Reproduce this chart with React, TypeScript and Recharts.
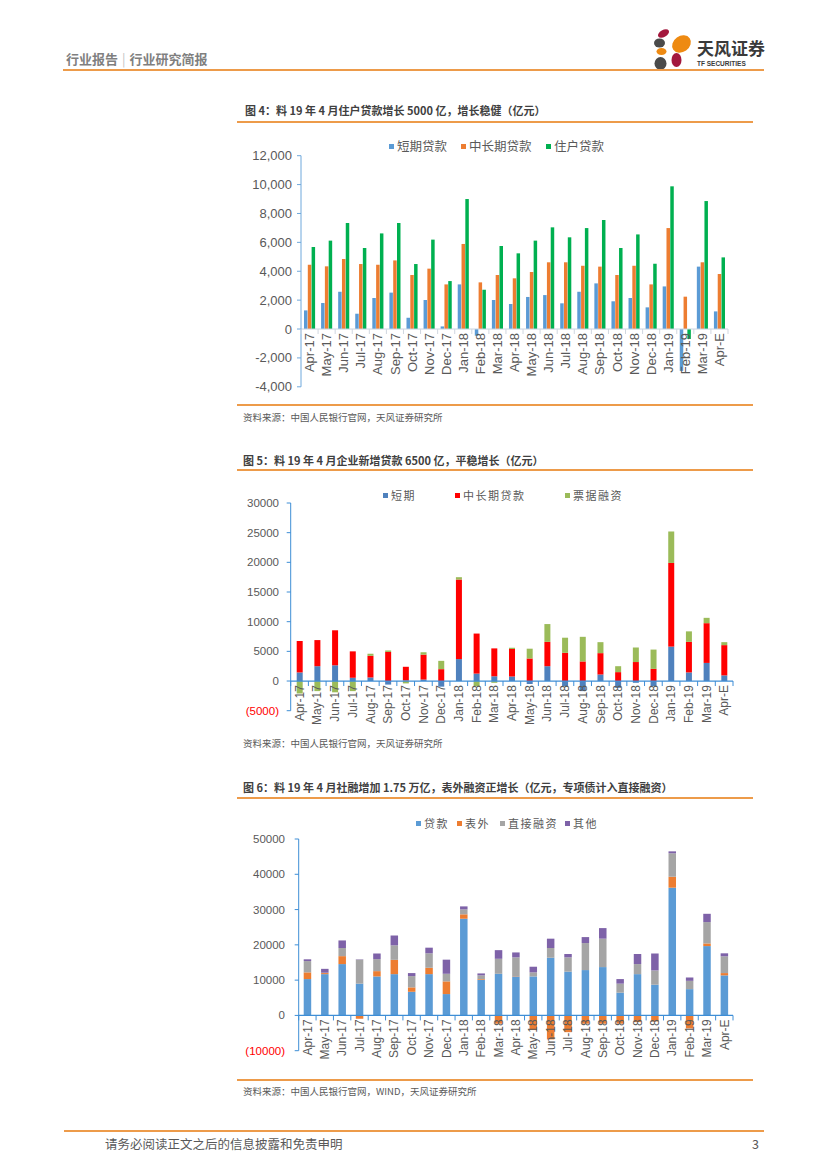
import React from 'react'
import { Bar, BarChart, ReferenceLine, XAxis, YAxis } from 'recharts'

// x categories shared by all three charts
const months = [
  'Apr-17', 'May-17', 'Jun-17', 'Jul-17', 'Aug-17', 'Sep-17', 'Oct-17', 'Nov-17', 'Dec-17',
  'Jan-18', 'Feb-18', 'Mar-18', 'Apr-18', 'May-18', 'Jun-18', 'Jul-18', 'Aug-18', 'Sep-18',
  'Oct-18', 'Nov-18', 'Dec-18', 'Jan-19', 'Feb-19', 'Mar-19', 'Apr-E',
]

// 图4: 短期贷款 / 中长期贷款 / 住户贷款
const shortLoans = [1290, 1800, 2580, 1060, 2150, 2520, 780, 2010, 180, 3090, -460, 2010, 1730, 2220, 2350, 1780, 2580, 3160, 1920, 2150, 1500, 2950, -2900, 4320, 1220]
const midLongLoans = [4450, 4340, 4850, 4500, 4450, 4750, 3740, 4180, 3090, 5890, 3230, 3740, 3510, 3950, 4620, 4620, 4380, 4320, 3740, 4380, 3090, 6990, 2240, 4620, 3810]
const householdLoans = [5680, 6120, 7340, 5610, 6620, 7340, 4500, 6190, 3320, 9000, 2720, 5750, 5240, 6120, 7040, 6350, 6990, 7550, 5610, 6550, 4520, 9880, -690, 8860, 4960]

// 图5: 企业 短期 / 中长期贷款 / 票据融资 (stacked)
const corpShort = [1450, 2500, 2650, 550, 600, -600, 100, 250, -950, 3700, 1250, 800, 750, -500, 2500, -900, -1700, 1100, -1150, -300, -850, 5800, 1450, 3050, 950]
const corpMidLong = [5300, 4400, 5900, 4450, 3650, 4900, 2300, 4200, 2000, 13400, 6750, 4700, 4650, 3800, 4100, 4750, 3300, 3600, 1500, 3200, 2050, 14100, 5150, 6700, 5100]
const billFinancing = [-2100, -1700, -1900, -1700, 350, 250, -400, 400, 1400, 400, -850, -300, 200, 1650, 3000, 2550, 4150, 1850, 1000, 2450, 3250, 5300, 1770, 900, 500]

// 图6: 社融 贷款 / 表外 / 直接融资 / 其他 (stacked)
const tsfLoans = [10300, 11700, 14550, 9000, 11050, 11700, 6700, 11700, 6050, 27400, 10100, 11800, 11050, 11050, 16350, 12400, 12850, 13700, 6450, 11700, 8700, 36200, 7450, 19650, 11350]
const tsfOffBalance = [1900, 300, 2250, -950, 1500, 4050, 1250, 1800, 3600, 1250, 200, -2350, 100, -4150, -6800, -4750, -2350, -2350, -2350, -1900, -1700, 3100, -3700, 750, 650]
const tsfDirect = [3200, 100, 2300, 6800, 3400, 4100, 3200, 4100, 2150, 1400, 1050, 4250, 5300, 1150, 2750, 4050, 7650, 8050, 2550, 2850, 4050, 6650, 2350, 6050, 4750]
const tsfOther = [500, 1100, 2150, 100, 1600, 2800, 850, 1600, 4000, 850, 550, 2450, 1400, 1600, 2650, 950, 1700, 3000, 1300, 2850, 4800, 550, 950, 2350, 850]

const ticks1 = [-4000, -2000, 0, 2000, 4000, 6000, 8000, 10000, 12000]
const ticks2 = [-5000, 0, 5000, 10000, 15000, 20000, 25000, 30000]
const ticks3 = [-10000, 0, 10000, 20000, 30000, 40000, 50000]

const data1 = months.map((m, i) => ({ month: m, s: shortLoans[i], ml: midLongLoans[i], h: householdLoans[i] }))
const data2 = months.map((m, i) => ({ month: m, s: corpShort[i], ml: corpMidLong[i], b: billFinancing[i] }))
const data3 = months.map((m, i) => ({ month: m, l: tsfLoans[i], o: tsfOffBalance[i], d: tsfDirect[i], x: tsfOther[i] }))

const CJK = '"Noto Sans CJK SC", "Noto Sans", sans-serif'
const LATIN = '"Liberation Sans", Arial, sans-serif'
const GREY = '#595959'
const ORANGE_RULE = '#ED9B4A'
const AXIS_BLUE = '#3E8ED6'

// x labels sit on the zero line, rotated like the Excel original
function monthTick(zeroY: number, catW: number, fontSize: number, tickColor: string | null) {
  return (props: any) => {
    const { x, payload, index } = props
    return (
      <g>
        {tickColor && (
          <line x1={x - catW / 2} x2={x - catW / 2} y1={zeroY} y2={zeroY + 5} stroke={tickColor} strokeWidth={1} />
        )}
        {tickColor && index === months.length - 1 && (
          <line x1={x + catW / 2} x2={x + catW / 2} y1={zeroY} y2={zeroY + 5} stroke={tickColor} strokeWidth={1} />
        )}
        <text
          transform={`translate(${x},${zeroY + 4}) rotate(-90)`}
          textAnchor="end"
          dy="0.35em"
          fontSize={fontSize}
          fill={GREY}
          fontFamily={LATIN}
        >
          {payload.value}
        </text>
      </g>
    )
  }
}

function valueTick(fontSize: number, format: (v: number) => string, negColor: string) {
  return (props: any) => {
    const { x, y, payload } = props
    const v = payload.value as number
    return (
      <text x={x} y={y} dy="0.35em" textAnchor="end" fontSize={fontSize} fontFamily={LATIN} fill={v < 0 ? negColor : GREY}>
        {format(v)}
      </text>
    )
  }
}

const comma = (v: number) => v.toLocaleString('en-US')
const paren = (v: number) => (v < 0 ? `(${-v})` : `${v}`)

function LegendRow({ items, y, fontSize, spacing }: { items: { name: string; color: string; x: number }[]; y: number; fontSize: number; spacing: number }) {
  return (
    <>
      {items.map((it) => (
        <div key={it.name} style={{ position: 'absolute', left: it.x, top: y - 8, height: 16, display: 'flex', alignItems: 'center' }}>
          <span style={{ width: 5, height: 5, background: it.color, marginRight: 3, display: 'inline-block' }} />
          <span style={{ fontFamily: CJK, fontSize, color: GREY, letterSpacing: spacing, lineHeight: '16px', whiteSpace: 'nowrap' }}>
            {it.name}
          </span>
        </div>
      ))}
    </>
  )
}

function PageText({ x, y, size, color, bold, children }: { x: number; y: number; size: number; color: string; bold?: boolean; children: React.ReactNode }) {
  return (
    <div
      style={{
        position: 'absolute', left: x, top: y - 8, lineHeight: '16px', fontSize: size, color,
        fontFamily: CJK, fontWeight: bold ? 700 : 400, whiteSpace: 'nowrap',
      }}
    >
      {children}
    </div>
  )
}

function Rule({ x1, x2, y, w = 1.5 }: { x1: number; x2: number; y: number; w?: number }) {
  return <div style={{ position: 'absolute', left: x1, top: y - w / 2, width: x2 - x1, height: w, background: ORANGE_RULE }} />
}

function Logo() {
  return (
    <svg width={60} height={44} style={{ position: 'absolute', left: 650, top: 28 }}>
      <ellipse cx={13.5} cy={5.5} rx={6} ry={3.5} fill="#A3173D" transform="rotate(-30 13.5 5.5)" />
      <ellipse cx={9.5} cy={15} rx={5.5} ry={4.5} fill="#4A4A4A" />
      <ellipse cx={31.5} cy={16} rx={10} ry={8} fill="#EE8A12" transform="rotate(-35 31.5 16)" />
      <ellipse cx={11.5} cy={23.5} rx={5} ry={3.5} fill="#EE8A12" />
      <ellipse cx={26.5} cy={32} rx={5} ry={7} fill="#A3173D" />
      <ellipse cx={10.5} cy={35.5} rx={6} ry={6.5} fill="#4A4A4A" />
    </svg>
  )
}

export default function App() {
  // chart 1 geometry
  const c1 = { top: 130, h: 270, mt: 25.7, mb: 11.2, yw: 301, mr: 99 }
  const c1Plot = c1.h - c1.mt - c1.mb - 2
  const zero1 = c1.mt + (c1Plot * 12000) / 16000
  const cat1 = (827 - c1.yw - c1.mr) / months.length

  const c2 = { top: 470, h: 260, mt: 33, mb: 17.3, yw: 290.7, mr: 94 }
  const c2Plot = c2.h - c2.mt - c2.mb - 2
  const zero2 = c2.mt + (c2Plot * 30000) / 35000
  const cat2 = (827 - c2.yw - c2.mr) / months.length

  const c3 = { top: 800, h: 270, mt: 39, mb: 17.3, yw: 298.7, mr: 94 }
  const c3Plot = c3.h - c3.mt - c3.mb - 2
  const zero3 = c3.mt + (c3Plot * 50000) / 60000
  const cat3 = (827 - c3.yw - c3.mr) / months.length

  return (
    <div style={{ position: 'relative', width: 827, height: 1170, background: '#fff', overflow: 'hidden' }}>
      <style>{'body{margin:0}'}</style>

      {/* header */}
      <PageText x={66} y={59} size={13} color="#7F7F7F" bold>
        行业报告<span style={{ color: '#BFBFBF', fontWeight: 400, margin: '0 4px' }}>|</span>行业研究简报
      </PageText>
      <Logo />
      <PageText x={697} y={48} size={17} color="#3A3A3A" bold>天风证券</PageText>
      <div style={{ position: 'absolute', left: 697, top: 60, fontSize: 6.5, fontWeight: 700, fontFamily: LATIN, color: '#3A3A3A', lineHeight: '8px' }}>
        TF SECURITIES
      </div>
      <Rule x1={63} x2={764} y={70} w={2} />

      {/* 图4 */}
      <PageText x={245} y={110} size={11} color="#404040" bold>
        图 4：料 19 年 4 月住户贷款增长 5000 亿，增长稳健（亿元）
      </PageText>
      <Rule x1={237} x2={753} y={122} />
      <LegendRow
        y={146}
        fontSize={12.5}
        spacing={0}
        items={[
          { name: '短期贷款', color: '#5B9BD5', x: 389 },
          { name: '中长期贷款', color: '#ED7D31', x: 461 },
          { name: '住户贷款', color: '#00B050', x: 546 },
        ]}
      />
      <div style={{ position: 'absolute', left: 0, top: c1.top }}>
        <BarChart
          width={827}
          height={c1.h}
          data={data1}
          margin={{ top: c1.mt, right: c1.mr, bottom: c1.mb, left: 0 }}
          barCategoryGap={0}
          barGap={0.3}
        >
          <YAxis
            width={c1.yw}
            domain={[-4000, 12000]}
            ticks={ticks1}
            interval={0}
            stroke="#6FA8DC"
            tickSize={4}
            tickMargin={5}
            tick={valueTick(13, comma, GREY)}
          />
          <XAxis dataKey="month" height={2} axisLine={false} tickLine={false} interval={0} tick={monthTick(zero1, cat1, 13, '#D0D7E0')} />
          <Bar dataKey="s" fill="#5B9BD5" barSize={3.5} isAnimationActive={false} />
          <Bar dataKey="ml" fill="#ED7D31" barSize={3.5} isAnimationActive={false} />
          <Bar dataKey="h" fill="#00B050" barSize={3.5} isAnimationActive={false} />
          <ReferenceLine y={0} stroke="#C8D3E0" strokeWidth={1} />
        </BarChart>
      </div>
      <Rule x1={237} x2={753} y={405} />
      <PageText x={243} y={417} size={9.5} color={GREY}>资料来源：中国人民银行官网，天风证券研究所</PageText>

      {/* 图5 */}
      <PageText x={243} y={460} size={11} color="#404040" bold>
        图 5：料 19 年 4 月企业新增贷款 6500 亿，平稳增长（亿元）
      </PageText>
      <Rule x1={237} x2={753} y={470} />
      <LegendRow
        y={495}
        fontSize={11}
        spacing={1.5}
        items={[
          { name: '短期', color: '#4F81BD', x: 383 },
          { name: '中长期贷款', color: '#FF0000', x: 455 },
          { name: '票据融资', color: '#9BBB59', x: 565 },
        ]}
      />
      <div style={{ position: 'absolute', left: 0, top: c2.top }}>
        <BarChart
          width={827}
          height={c2.h}
          data={data2}
          stackOffset="sign"
          margin={{ top: c2.mt, right: c2.mr, bottom: c2.mb, left: 0 }}
        >
          <YAxis
            width={c2.yw}
            domain={[-5000, 30000]}
            ticks={ticks2}
            interval={0}
            stroke={AXIS_BLUE}
            tickSize={4}
            tickMargin={7.7}
            tick={valueTick(11.5, paren, '#FF0000')}
          />
          <XAxis dataKey="month" height={2} axisLine={false} tickLine={false} interval={0} tick={monthTick(zero2, cat2, 12, AXIS_BLUE)} />
          <Bar dataKey="s" stackId="a" fill="#4F81BD" barSize={6} isAnimationActive={false} />
          <Bar dataKey="ml" stackId="a" fill="#FF0000" barSize={6} isAnimationActive={false} />
          <Bar dataKey="b" stackId="a" fill="#9BBB59" barSize={6} isAnimationActive={false} />
          <ReferenceLine y={0} stroke={AXIS_BLUE} strokeWidth={1.2} />
        </BarChart>
      </div>
      <PageText x={243} y={743} size={9.5} color={GREY}>资料来源：中国人民银行官网，天风证券研究所</PageText>

      {/* 图6 */}
      <PageText x={243} y={787} size={11} color="#404040" bold>
        图 6：料 19 年 4 月社融增加 1.75 万亿，表外融资正增长（亿元，专项债计入直接融资）
      </PageText>
      <Rule x1={237} x2={753} y={798} />
      <LegendRow
        y={823}
        fontSize={11}
        spacing={1.5}
        items={[
          { name: '贷款', color: '#5B9BD5', x: 416 },
          { name: '表外', color: '#ED7D31', x: 457 },
          { name: '直接融资', color: '#A5A5A5', x: 500 },
          { name: '其他', color: '#7E62A8', x: 565 },
        ]}
      />
      <div style={{ position: 'absolute', left: 0, top: c3.top }}>
        <BarChart
          width={827}
          height={c3.h}
          data={data3}
          stackOffset="sign"
          margin={{ top: c3.mt, right: c3.mr, bottom: c3.mb, left: 0 }}
        >
          <YAxis
            width={c3.yw}
            domain={[-10000, 50000]}
            ticks={ticks3}
            interval={0}
            stroke={AXIS_BLUE}
            tickSize={4}
            tickMargin={9.7}
            tick={valueTick(11.5, paren, '#FF0000')}
          />
          <XAxis dataKey="month" height={2} axisLine={false} tickLine={false} interval={0} tick={monthTick(zero3, cat3, 12, AXIS_BLUE)} />
          <Bar dataKey="l" stackId="a" fill="#5B9BD5" barSize={7.5} isAnimationActive={false} />
          <Bar dataKey="o" stackId="a" fill="#ED7D31" barSize={7.5} isAnimationActive={false} />
          <Bar dataKey="d" stackId="a" fill="#A5A5A5" barSize={7.5} isAnimationActive={false} />
          <Bar dataKey="x" stackId="a" fill="#7E62A8" barSize={7.5} isAnimationActive={false} />
          <ReferenceLine y={0} stroke={AXIS_BLUE} strokeWidth={1.2} />
        </BarChart>
      </div>
      <Rule x1={237} x2={753} y={1080} />
      <PageText x={243} y={1091} size={9.5} color={GREY}>资料来源：中国人民银行官网，WIND，天风证券研究所</PageText>

      {/* footer */}
      <Rule x1={64} x2={764} y={1131} w={2} />
      <PageText x={105} y={1144} size={12.5} color={GREY}>请务必阅读正文之后的信息披露和免责申明</PageText>
      <PageText x={752} y={1144} size={12.5} color={GREY}>3</PageText>
    </div>
  )
}
